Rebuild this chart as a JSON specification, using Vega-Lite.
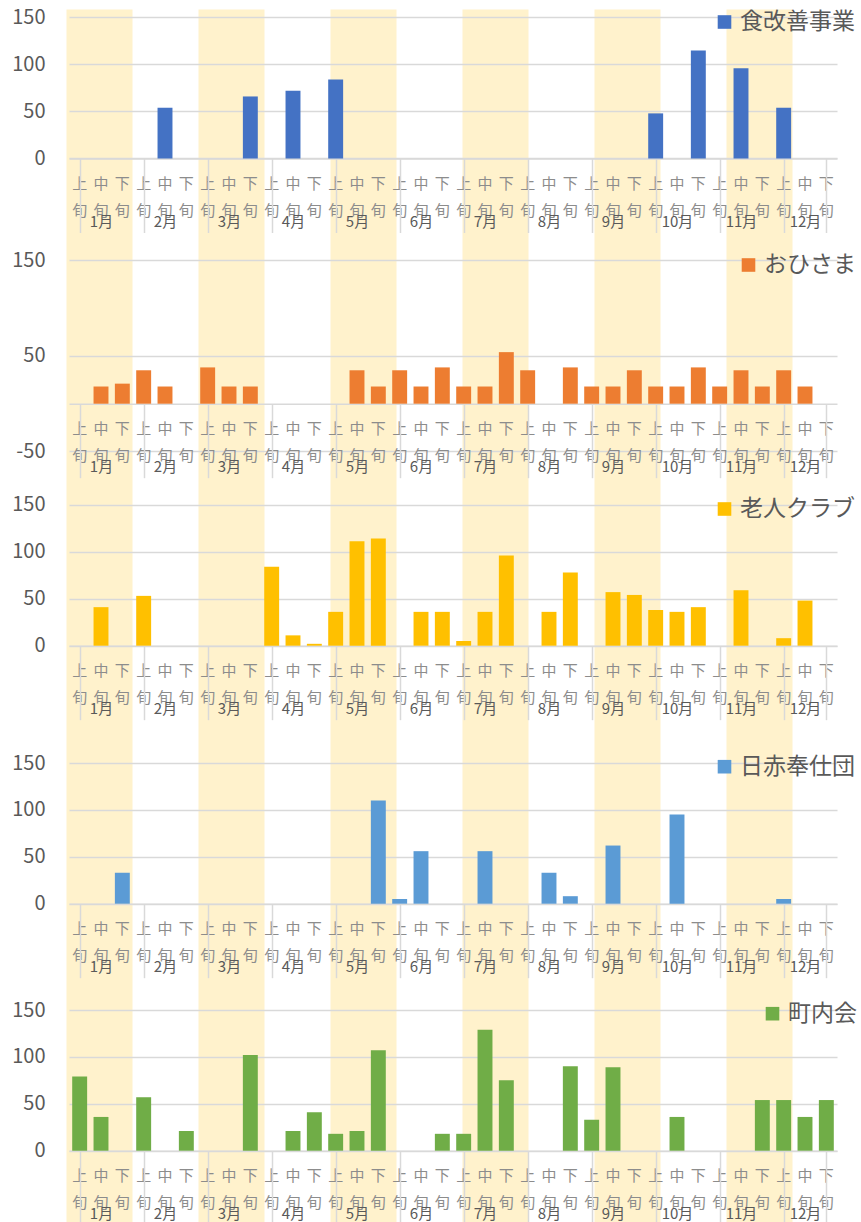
{
  "$schema": "https://vega.github.io/schema/vega-lite/v6.json",
  "autosize": {"type": "none"},
  "padding": {"left": 69, "top": 9, "right": 24, "bottom": 0},
  "width": 768,
  "height": 1213,
  "config": {"font": "Noto Sans CJK JP", "view": {"stroke": null}},
  "resolve": {"scale": {"x": "independent", "y": "independent", "color": "independent"}, "axis": {"x": "independent", "y": "independent"}, "legend": {"color": "independent"}},
  "datasets": {
    "shade": [{"col": 1}, {"col": 3}, {"col": 5}, {"col": 7}, {"col": 9}, {"col": 11}],
    "d": [
      {"s": "食改善事業", "c": "2月中旬", "v": 54},
      {"s": "食改善事業", "c": "3月下旬", "v": 66},
      {"s": "食改善事業", "c": "4月中旬", "v": 72},
      {"s": "食改善事業", "c": "5月上旬", "v": 84},
      {"s": "食改善事業", "c": "10月上旬", "v": 48},
      {"s": "食改善事業", "c": "10月下旬", "v": 115},
      {"s": "食改善事業", "c": "11月中旬", "v": 96},
      {"s": "食改善事業", "c": "12月上旬", "v": 54},
      {"s": "おひさま", "c": "1月中旬", "v": 18},
      {"s": "おひさま", "c": "1月下旬", "v": 21},
      {"s": "おひさま", "c": "2月上旬", "v": 35},
      {"s": "おひさま", "c": "2月中旬", "v": 18},
      {"s": "おひさま", "c": "3月上旬", "v": 38},
      {"s": "おひさま", "c": "3月中旬", "v": 18},
      {"s": "おひさま", "c": "3月下旬", "v": 18},
      {"s": "おひさま", "c": "5月中旬", "v": 35},
      {"s": "おひさま", "c": "5月下旬", "v": 18},
      {"s": "おひさま", "c": "6月上旬", "v": 35},
      {"s": "おひさま", "c": "6月中旬", "v": 18},
      {"s": "おひさま", "c": "6月下旬", "v": 38},
      {"s": "おひさま", "c": "7月上旬", "v": 18},
      {"s": "おひさま", "c": "7月中旬", "v": 18},
      {"s": "おひさま", "c": "7月下旬", "v": 54},
      {"s": "おひさま", "c": "8月上旬", "v": 35},
      {"s": "おひさま", "c": "8月下旬", "v": 38},
      {"s": "おひさま", "c": "9月上旬", "v": 18},
      {"s": "おひさま", "c": "9月中旬", "v": 18},
      {"s": "おひさま", "c": "9月下旬", "v": 35},
      {"s": "おひさま", "c": "10月上旬", "v": 18},
      {"s": "おひさま", "c": "10月中旬", "v": 18},
      {"s": "おひさま", "c": "10月下旬", "v": 38},
      {"s": "おひさま", "c": "11月上旬", "v": 18},
      {"s": "おひさま", "c": "11月中旬", "v": 35},
      {"s": "おひさま", "c": "11月下旬", "v": 18},
      {"s": "おひさま", "c": "12月上旬", "v": 35},
      {"s": "おひさま", "c": "12月中旬", "v": 18},
      {"s": "老人クラブ", "c": "1月中旬", "v": 41},
      {"s": "老人クラブ", "c": "2月上旬", "v": 53},
      {"s": "老人クラブ", "c": "4月上旬", "v": 84},
      {"s": "老人クラブ", "c": "4月中旬", "v": 11},
      {"s": "老人クラブ", "c": "4月下旬", "v": 2},
      {"s": "老人クラブ", "c": "5月上旬", "v": 36},
      {"s": "老人クラブ", "c": "5月中旬", "v": 111},
      {"s": "老人クラブ", "c": "5月下旬", "v": 114},
      {"s": "老人クラブ", "c": "6月中旬", "v": 36},
      {"s": "老人クラブ", "c": "6月下旬", "v": 36},
      {"s": "老人クラブ", "c": "7月上旬", "v": 5},
      {"s": "老人クラブ", "c": "7月中旬", "v": 36},
      {"s": "老人クラブ", "c": "7月下旬", "v": 96},
      {"s": "老人クラブ", "c": "8月中旬", "v": 36},
      {"s": "老人クラブ", "c": "8月下旬", "v": 78},
      {"s": "老人クラブ", "c": "9月中旬", "v": 57},
      {"s": "老人クラブ", "c": "9月下旬", "v": 54},
      {"s": "老人クラブ", "c": "10月上旬", "v": 38},
      {"s": "老人クラブ", "c": "10月中旬", "v": 36},
      {"s": "老人クラブ", "c": "10月下旬", "v": 41},
      {"s": "老人クラブ", "c": "11月中旬", "v": 59},
      {"s": "老人クラブ", "c": "12月上旬", "v": 8},
      {"s": "老人クラブ", "c": "12月中旬", "v": 48},
      {"s": "日赤奉仕団", "c": "1月下旬", "v": 33},
      {"s": "日赤奉仕団", "c": "5月下旬", "v": 110},
      {"s": "日赤奉仕団", "c": "6月上旬", "v": 5},
      {"s": "日赤奉仕団", "c": "6月中旬", "v": 56},
      {"s": "日赤奉仕団", "c": "7月中旬", "v": 56},
      {"s": "日赤奉仕団", "c": "8月中旬", "v": 33},
      {"s": "日赤奉仕団", "c": "8月下旬", "v": 8},
      {"s": "日赤奉仕団", "c": "9月中旬", "v": 62},
      {"s": "日赤奉仕団", "c": "10月中旬", "v": 95},
      {"s": "日赤奉仕団", "c": "12月上旬", "v": 5},
      {"s": "町内会", "c": "1月上旬", "v": 79},
      {"s": "町内会", "c": "1月中旬", "v": 36},
      {"s": "町内会", "c": "2月上旬", "v": 57},
      {"s": "町内会", "c": "2月下旬", "v": 21},
      {"s": "町内会", "c": "3月下旬", "v": 102},
      {"s": "町内会", "c": "4月中旬", "v": 21},
      {"s": "町内会", "c": "4月下旬", "v": 41},
      {"s": "町内会", "c": "5月上旬", "v": 18},
      {"s": "町内会", "c": "5月中旬", "v": 21},
      {"s": "町内会", "c": "5月下旬", "v": 107},
      {"s": "町内会", "c": "6月下旬", "v": 18},
      {"s": "町内会", "c": "7月上旬", "v": 18},
      {"s": "町内会", "c": "7月中旬", "v": 129},
      {"s": "町内会", "c": "7月下旬", "v": 75},
      {"s": "町内会", "c": "8月下旬", "v": 90},
      {"s": "町内会", "c": "9月上旬", "v": 33},
      {"s": "町内会", "c": "9月中旬", "v": 89},
      {"s": "町内会", "c": "10月中旬", "v": 36},
      {"s": "町内会", "c": "11月下旬", "v": 54},
      {"s": "町内会", "c": "12月上旬", "v": 54},
      {"s": "町内会", "c": "12月中旬", "v": 36},
      {"s": "町内会", "c": "12月下旬", "v": 54}
    ]
  },
  "layer": [
    {"data": {"name": "shade"}, "mark": {"type": "point", "opacity": 0},
     "encoding": {"x": {"field": "col", "type": "quantitative", "scale": {"domain": [0.54545, 12.18182], "nice": false, "zero": false},
       "axis": {"orient": "bottom", "title": null, "values": [1, 3, 5, 7, 9, 11], "grid": true, "gridColor": "#FFF2CC", "gridWidth": 66, "gridOpacity": 1, "labels": false, "ticks": false, "domain": false}}}},

    {"data": {"name": "d"}, "transform": [{"filter": "datum.s === '食改善事業'"}],
     "mark": {"type": "bar", "width": {"band": 0.7}},
     "encoding": {
       "x": {"field": "c", "type": "nominal", "scale": {"domain": ["1月上旬","1月中旬","1月下旬","2月上旬","2月中旬","2月下旬","3月上旬","3月中旬","3月下旬","4月上旬","4月中旬","4月下旬","5月上旬","5月中旬","5月下旬","6月上旬","6月中旬","6月下旬","7月上旬","7月中旬","7月下旬","8月上旬","8月中旬","8月下旬","9月上旬","9月中旬","9月下旬","10月上旬","10月中旬","10月下旬","11月上旬","11月中旬","11月下旬","12月上旬","12月中旬","12月下旬"], "paddingInner": 0, "paddingOuter": 0},
         "axis": {"orient": "bottom", "offset": -1063.5, "title": null, "grid": false, "ticks": false, "tickSize": 0, "domain": true, "domainColor": "#D9D9D9", "domainWidth": 1.5, "labelExpr": "[slice(datum.value,-2,-1), slice(datum.value,-1)]", "labelLineHeight": 27, "labelFontSize": 15, "labelColor": "#8C8C8C", "labelBaseline": "top", "labelPadding": 18, "labelAngle": 0, "labelOverlap": false}},
       "y": {"field": "v", "type": "quantitative", "scale": {"domain": [-1131.38, 159.04], "nice": false, "zero": false},
         "axis": {"orient": "left", "title": null, "values": [0, 50, 100, 150], "grid": true, "gridColor": "#D9D9D9", "gridWidth": 1.5, "ticks": false, "domain": false, "labelFontSize": 20, "labelColor": "#595959", "labelPadding": 24}},
       "color": {"field": "s", "type": "nominal", "scale": {"domain": ["食改善事業"], "range": ["#4472C4"]},
         "legend": {"orient": "none", "legendX": 644, "legendY": 1.5, "title": null, "symbolType": "square", "symbolSize": 185, "symbolStrokeWidth": 0, "labelFontSize": 23, "labelColor": "#595959", "labelOffset": 4, "padding": 0}}
     }},
    {"data": {"name": "d"}, "mark": {"type": "point", "opacity": 0},
     "encoding": {"x": {"field": "c", "type": "nominal", "scale": {"domain": ["1月上旬","1月中旬","1月下旬","2月上旬","2月中旬","2月下旬","3月上旬","3月中旬","3月下旬","4月上旬","4月中旬","4月下旬","5月上旬","5月中旬","5月下旬","6月上旬","6月中旬","6月下旬","7月上旬","7月中旬","7月下旬","8月上旬","8月中旬","8月下旬","9月上旬","9月中旬","9月下旬","10月上旬","10月中旬","10月下旬","11月上旬","11月中旬","11月下旬","12月上旬","12月中旬","12月下旬"], "paddingInner": 0, "paddingOuter": 0},
       "axis": {"orient": "bottom", "offset": -1063.5, "title": null, "grid": false, "values": ["1月上旬","2月上旬","3月上旬","4月上旬","5月上旬","6月上旬","7月上旬","8月上旬","9月上旬","10月上旬","11月上旬","12月上旬"], "bandPosition": 0, "tickSize": 74, "tickColor": "#D9D9D9", "tickWidth": 1.5, "domain": false, "labelExpr": "slice(datum.value,0,-2)", "labelOffset": 21.33, "labelFontSize": 15, "labelColor": "#595959", "labelBaseline": "middle", "labelPadding": -11, "labelAngle": 0, "labelOverlap": false}}}},
    {"data": {"name": "d"}, "mark": {"type": "point", "opacity": 0},
     "encoding": {"x": {"field": "c", "type": "nominal", "scale": {"domain": ["1月上旬","1月中旬","1月下旬","2月上旬","2月中旬","2月下旬","3月上旬","3月中旬","3月下旬","4月上旬","4月中旬","4月下旬","5月上旬","5月中旬","5月下旬","6月上旬","6月中旬","6月下旬","7月上旬","7月中旬","7月下旬","8月上旬","8月中旬","8月下旬","9月上旬","9月中旬","9月下旬","10月上旬","10月中旬","10月下旬","11月上旬","11月中旬","11月下旬","12月上旬","12月中旬","12月下旬"], "paddingInner": 0, "paddingOuter": 0},
       "axis": {"orient": "bottom", "offset": -1063.5, "title": null, "grid": false, "values": ["12月下旬"], "bandPosition": 1, "tickSize": 74, "tickColor": "#D9D9D9", "tickWidth": 1.5, "domain": false, "labels": false}}}},

    {"data": {"name": "d"}, "transform": [{"filter": "datum.s === 'おひさま'"}],
     "mark": {"type": "bar", "width": {"band": 0.7}},
     "encoding": {
       "x": {"field": "c", "type": "nominal", "scale": {"domain": ["1月上旬","1月中旬","1月下旬","2月上旬","2月中旬","2月下旬","3月上旬","3月中旬","3月下旬","4月上旬","4月中旬","4月下旬","5月上旬","5月中旬","5月下旬","6月上旬","6月中旬","6月下旬","7月上旬","7月中旬","7月下旬","8月上旬","8月中旬","8月下旬","9月上旬","9月中旬","9月下旬","10月上旬","10月中旬","10月下旬","11月上旬","11月中旬","11月下旬","12月上旬","12月中旬","12月下旬"], "paddingInner": 0, "paddingOuter": 0},
         "axis": {"orient": "bottom", "offset": -818.3, "title": null, "grid": false, "ticks": false, "tickSize": 0, "domain": true, "domainColor": "#D9D9D9", "domainWidth": 1.5, "labelExpr": "[slice(datum.value,-2,-1), slice(datum.value,-1)]", "labelLineHeight": 27, "labelFontSize": 15, "labelColor": "#8C8C8C", "labelBaseline": "top", "labelPadding": 18, "labelAngle": 0, "labelOverlap": false}},
       "y": {"field": "v", "type": "quantitative", "scale": {"domain": [-856.86, 413.30], "nice": false, "zero": false},
         "axis": {"orient": "left", "title": null, "values": [-50, 50, 150], "labelExpr": "replace(datum.label, '−', '-')", "grid": true, "gridColor": "#D9D9D9", "gridWidth": 1.5, "ticks": false, "domain": false, "labelFontSize": 20, "labelColor": "#595959", "labelPadding": 24}},
       "color": {"field": "s", "type": "nominal", "scale": {"domain": ["おひさま"], "range": ["#ED7D31"]},
         "legend": {"orient": "none", "legendX": 668, "legendY": 244.5, "title": null, "symbolType": "square", "symbolSize": 185, "symbolStrokeWidth": 0, "labelFontSize": 23, "labelColor": "#595959", "labelOffset": 4, "padding": 0}}
     }},
    {"data": {"name": "d"}, "mark": {"type": "point", "opacity": 0},
     "encoding": {"x": {"field": "c", "type": "nominal", "scale": {"domain": ["1月上旬","1月中旬","1月下旬","2月上旬","2月中旬","2月下旬","3月上旬","3月中旬","3月下旬","4月上旬","4月中旬","4月下旬","5月上旬","5月中旬","5月下旬","6月上旬","6月中旬","6月下旬","7月上旬","7月中旬","7月下旬","8月上旬","8月中旬","8月下旬","9月上旬","9月中旬","9月下旬","10月上旬","10月中旬","10月下旬","11月上旬","11月中旬","11月下旬","12月上旬","12月中旬","12月下旬"], "paddingInner": 0, "paddingOuter": 0},
       "axis": {"orient": "bottom", "offset": -818.3, "title": null, "grid": false, "values": ["1月上旬","2月上旬","3月上旬","4月上旬","5月上旬","6月上旬","7月上旬","8月上旬","9月上旬","10月上旬","11月上旬","12月上旬"], "bandPosition": 0, "tickSize": 74, "tickColor": "#D9D9D9", "tickWidth": 1.5, "domain": false, "labelExpr": "slice(datum.value,0,-2)", "labelOffset": 21.33, "labelFontSize": 15, "labelColor": "#595959", "labelBaseline": "middle", "labelPadding": -11, "labelAngle": 0, "labelOverlap": false}}}},
    {"data": {"name": "d"}, "mark": {"type": "point", "opacity": 0},
     "encoding": {"x": {"field": "c", "type": "nominal", "scale": {"domain": ["1月上旬","1月中旬","1月下旬","2月上旬","2月中旬","2月下旬","3月上旬","3月中旬","3月下旬","4月上旬","4月中旬","4月下旬","5月上旬","5月中旬","5月下旬","6月上旬","6月中旬","6月下旬","7月上旬","7月中旬","7月下旬","8月上旬","8月中旬","8月下旬","9月上旬","9月中旬","9月下旬","10月上旬","10月中旬","10月下旬","11月上旬","11月中旬","11月下旬","12月上旬","12月中旬","12月下旬"], "paddingInner": 0, "paddingOuter": 0},
       "axis": {"orient": "bottom", "offset": -818.3, "title": null, "grid": false, "values": ["12月下旬"], "bandPosition": 1, "tickSize": 74, "tickColor": "#D9D9D9", "tickWidth": 1.5, "domain": false, "labels": false}}}},

    {"data": {"name": "d"}, "transform": [{"filter": "datum.s === '老人クラブ'"}],
     "mark": {"type": "bar", "width": {"band": 0.7}},
     "encoding": {
       "x": {"field": "c", "type": "nominal", "scale": {"domain": ["1月上旬","1月中旬","1月下旬","2月上旬","2月中旬","2月下旬","3月上旬","3月中旬","3月下旬","4月上旬","4月中旬","4月下旬","5月上旬","5月中旬","5月下旬","6月上旬","6月中旬","6月下旬","7月上旬","7月中旬","7月下旬","8月上旬","8月中旬","8月下旬","9月上旬","9月中旬","9月下旬","10月上旬","10月中旬","10月下旬","11月上旬","11月中旬","11月下旬","12月上旬","12月中旬","12月下旬"], "paddingInner": 0, "paddingOuter": 0},
         "axis": {"orient": "bottom", "offset": -576.3, "title": null, "grid": false, "ticks": false, "tickSize": 0, "domain": true, "domainColor": "#D9D9D9", "domainWidth": 1.5, "labelExpr": "[slice(datum.value,-2,-1), slice(datum.value,-1)]", "labelLineHeight": 27, "labelFontSize": 15, "labelColor": "#8C8C8C", "labelBaseline": "top", "labelPadding": 18, "labelAngle": 0, "labelOverlap": false}},
       "y": {"field": "v", "type": "quantitative", "scale": {"domain": [-613.09, 677.34], "nice": false, "zero": false},
         "axis": {"orient": "left", "title": null, "values": [0, 50, 100, 150], "grid": true, "gridColor": "#D9D9D9", "gridWidth": 1.5, "ticks": false, "domain": false, "labelFontSize": 20, "labelColor": "#595959", "labelPadding": 24}},
       "color": {"field": "s", "type": "nominal", "scale": {"domain": ["老人クラブ"], "range": ["#FFC000"]},
         "legend": {"orient": "none", "legendX": 644, "legendY": 488.5, "title": null, "symbolType": "square", "symbolSize": 185, "symbolStrokeWidth": 0, "labelFontSize": 23, "labelColor": "#595959", "labelOffset": 4, "padding": 0}}
     }},
    {"data": {"name": "d"}, "mark": {"type": "point", "opacity": 0},
     "encoding": {"x": {"field": "c", "type": "nominal", "scale": {"domain": ["1月上旬","1月中旬","1月下旬","2月上旬","2月中旬","2月下旬","3月上旬","3月中旬","3月下旬","4月上旬","4月中旬","4月下旬","5月上旬","5月中旬","5月下旬","6月上旬","6月中旬","6月下旬","7月上旬","7月中旬","7月下旬","8月上旬","8月中旬","8月下旬","9月上旬","9月中旬","9月下旬","10月上旬","10月中旬","10月下旬","11月上旬","11月中旬","11月下旬","12月上旬","12月中旬","12月下旬"], "paddingInner": 0, "paddingOuter": 0},
       "axis": {"orient": "bottom", "offset": -576.3, "title": null, "grid": false, "values": ["1月上旬","2月上旬","3月上旬","4月上旬","5月上旬","6月上旬","7月上旬","8月上旬","9月上旬","10月上旬","11月上旬","12月上旬"], "bandPosition": 0, "tickSize": 74, "tickColor": "#D9D9D9", "tickWidth": 1.5, "domain": false, "labelExpr": "slice(datum.value,0,-2)", "labelOffset": 21.33, "labelFontSize": 15, "labelColor": "#595959", "labelBaseline": "middle", "labelPadding": -11, "labelAngle": 0, "labelOverlap": false}}}},
    {"data": {"name": "d"}, "mark": {"type": "point", "opacity": 0},
     "encoding": {"x": {"field": "c", "type": "nominal", "scale": {"domain": ["1月上旬","1月中旬","1月下旬","2月上旬","2月中旬","2月下旬","3月上旬","3月中旬","3月下旬","4月上旬","4月中旬","4月下旬","5月上旬","5月中旬","5月下旬","6月上旬","6月中旬","6月下旬","7月上旬","7月中旬","7月下旬","8月上旬","8月中旬","8月下旬","9月上旬","9月中旬","9月下旬","10月上旬","10月中旬","10月下旬","11月上旬","11月中旬","11月下旬","12月上旬","12月中旬","12月下旬"], "paddingInner": 0, "paddingOuter": 0},
       "axis": {"orient": "bottom", "offset": -576.3, "title": null, "grid": false, "values": ["12月下旬"], "bandPosition": 1, "tickSize": 74, "tickColor": "#D9D9D9", "tickWidth": 1.5, "domain": false, "labels": false}}}},

    {"data": {"name": "d"}, "transform": [{"filter": "datum.s === '日赤奉仕団'"}],
     "mark": {"type": "bar", "width": {"band": 0.7}},
     "encoding": {
       "x": {"field": "c", "type": "nominal", "scale": {"domain": ["1月上旬","1月中旬","1月下旬","2月上旬","2月中旬","2月下旬","3月上旬","3月中旬","3月下旬","4月上旬","4月中旬","4月下旬","5月上旬","5月中旬","5月下旬","6月上旬","6月中旬","6月下旬","7月上旬","7月中旬","7月下旬","8月上旬","8月中旬","8月下旬","9月上旬","9月中旬","9月下旬","10月上旬","10月中旬","10月下旬","11月上旬","11月中旬","11月下旬","12月上旬","12月中旬","12月下旬"], "paddingInner": 0, "paddingOuter": 0},
         "axis": {"orient": "bottom", "offset": -318.3, "title": null, "grid": false, "ticks": false, "tickSize": 0, "domain": true, "domainColor": "#D9D9D9", "domainWidth": 1.5, "labelExpr": "[slice(datum.value,-2,-1), slice(datum.value,-1)]", "labelLineHeight": 27, "labelFontSize": 15, "labelColor": "#8C8C8C", "labelBaseline": "top", "labelPadding": 18, "labelAngle": 0, "labelOverlap": false}},
       "y": {"field": "v", "type": "quantitative", "scale": {"domain": [-339.34, 953.84], "nice": false, "zero": false},
         "axis": {"orient": "left", "title": null, "values": [0, 50, 100, 150], "grid": true, "gridColor": "#D9D9D9", "gridWidth": 1.5, "ticks": false, "domain": false, "labelFontSize": 20, "labelColor": "#595959", "labelPadding": 24}},
       "color": {"field": "s", "type": "nominal", "scale": {"domain": ["日赤奉仕団"], "range": ["#5B9BD5"]},
         "legend": {"orient": "none", "legendX": 644, "legendY": 746.2, "title": null, "symbolType": "square", "symbolSize": 185, "symbolStrokeWidth": 0, "labelFontSize": 23, "labelColor": "#595959", "labelOffset": 4, "padding": 0}}
     }},
    {"data": {"name": "d"}, "mark": {"type": "point", "opacity": 0},
     "encoding": {"x": {"field": "c", "type": "nominal", "scale": {"domain": ["1月上旬","1月中旬","1月下旬","2月上旬","2月中旬","2月下旬","3月上旬","3月中旬","3月下旬","4月上旬","4月中旬","4月下旬","5月上旬","5月中旬","5月下旬","6月上旬","6月中旬","6月下旬","7月上旬","7月中旬","7月下旬","8月上旬","8月中旬","8月下旬","9月上旬","9月中旬","9月下旬","10月上旬","10月中旬","10月下旬","11月上旬","11月中旬","11月下旬","12月上旬","12月中旬","12月下旬"], "paddingInner": 0, "paddingOuter": 0},
       "axis": {"orient": "bottom", "offset": -318.3, "title": null, "grid": false, "values": ["1月上旬","2月上旬","3月上旬","4月上旬","5月上旬","6月上旬","7月上旬","8月上旬","9月上旬","10月上旬","11月上旬","12月上旬"], "bandPosition": 0, "tickSize": 74, "tickColor": "#D9D9D9", "tickWidth": 1.5, "domain": false, "labelExpr": "slice(datum.value,0,-2)", "labelOffset": 21.33, "labelFontSize": 15, "labelColor": "#595959", "labelBaseline": "middle", "labelPadding": -11, "labelAngle": 0, "labelOverlap": false}}}},
    {"data": {"name": "d"}, "mark": {"type": "point", "opacity": 0},
     "encoding": {"x": {"field": "c", "type": "nominal", "scale": {"domain": ["1月上旬","1月中旬","1月下旬","2月上旬","2月中旬","2月下旬","3月上旬","3月中旬","3月下旬","4月上旬","4月中旬","4月下旬","5月上旬","5月中旬","5月下旬","6月上旬","6月中旬","6月下旬","7月上旬","7月中旬","7月下旬","8月上旬","8月中旬","8月下旬","9月上旬","9月中旬","9月下旬","10月上旬","10月中旬","10月下旬","11月上旬","11月中旬","11月下旬","12月上旬","12月中旬","12月下旬"], "paddingInner": 0, "paddingOuter": 0},
       "axis": {"orient": "bottom", "offset": -318.3, "title": null, "grid": false, "values": ["12月下旬"], "bandPosition": 1, "tickSize": 74, "tickColor": "#D9D9D9", "tickWidth": 1.5, "domain": false, "labels": false}}}},

    {"data": {"name": "d"}, "transform": [{"filter": "datum.s === '町内会'"}],
     "mark": {"type": "bar", "width": {"band": 0.7}},
     "encoding": {
       "x": {"field": "c", "type": "nominal", "scale": {"domain": ["1月上旬","1月中旬","1月下旬","2月上旬","2月中旬","2月下旬","3月上旬","3月中旬","3月下旬","4月上旬","4月中旬","4月下旬","5月上旬","5月中旬","5月下旬","6月上旬","6月中旬","6月下旬","7月上旬","7月中旬","7月下旬","8月上旬","8月中旬","8月下旬","9月上旬","9月中旬","9月下旬","10月上旬","10月中旬","10月下旬","11月上旬","11月中旬","11月下旬","12月上旬","12月中旬","12月下旬"], "paddingInner": 0, "paddingOuter": 0},
         "axis": {"orient": "bottom", "offset": -71.3, "title": null, "grid": false, "ticks": false, "tickSize": 0, "domain": true, "domainColor": "#D9D9D9", "domainWidth": 1.5, "labelExpr": "[slice(datum.value,-2,-1), slice(datum.value,-1)]", "labelLineHeight": 27, "labelFontSize": 15, "labelColor": "#8C8C8C", "labelBaseline": "top", "labelPadding": 18, "labelAngle": 0, "labelOverlap": false}},
       "y": {"field": "v", "type": "quantitative", "scale": {"domain": [-76.01, 1217.16], "nice": false, "zero": false},
         "axis": {"orient": "left", "title": null, "values": [0, 50, 100, 150], "grid": true, "gridColor": "#D9D9D9", "gridWidth": 1.5, "ticks": false, "domain": false, "labelFontSize": 20, "labelColor": "#595959", "labelPadding": 24}},
       "color": {"field": "s", "type": "nominal", "scale": {"domain": ["町内会"], "range": ["#70AD47"]},
         "legend": {"orient": "none", "legendX": 692, "legendY": 993.2, "title": null, "symbolType": "square", "symbolSize": 185, "symbolStrokeWidth": 0, "labelFontSize": 23, "labelColor": "#595959", "labelOffset": 4, "padding": 0}}
     }},
    {"data": {"name": "d"}, "mark": {"type": "point", "opacity": 0},
     "encoding": {"x": {"field": "c", "type": "nominal", "scale": {"domain": ["1月上旬","1月中旬","1月下旬","2月上旬","2月中旬","2月下旬","3月上旬","3月中旬","3月下旬","4月上旬","4月中旬","4月下旬","5月上旬","5月中旬","5月下旬","6月上旬","6月中旬","6月下旬","7月上旬","7月中旬","7月下旬","8月上旬","8月中旬","8月下旬","9月上旬","9月中旬","9月下旬","10月上旬","10月中旬","10月下旬","11月上旬","11月中旬","11月下旬","12月上旬","12月中旬","12月下旬"], "paddingInner": 0, "paddingOuter": 0},
       "axis": {"orient": "bottom", "offset": -71.3, "title": null, "grid": false, "values": ["1月上旬","2月上旬","3月上旬","4月上旬","5月上旬","6月上旬","7月上旬","8月上旬","9月上旬","10月上旬","11月上旬","12月上旬"], "bandPosition": 0, "tickSize": 74, "tickColor": "#D9D9D9", "tickWidth": 1.5, "domain": false, "labelExpr": "slice(datum.value,0,-2)", "labelOffset": 21.33, "labelFontSize": 15, "labelColor": "#595959", "labelBaseline": "middle", "labelPadding": -11, "labelAngle": 0, "labelOverlap": false}}}},
    {"data": {"name": "d"}, "mark": {"type": "point", "opacity": 0},
     "encoding": {"x": {"field": "c", "type": "nominal", "scale": {"domain": ["1月上旬","1月中旬","1月下旬","2月上旬","2月中旬","2月下旬","3月上旬","3月中旬","3月下旬","4月上旬","4月中旬","4月下旬","5月上旬","5月中旬","5月下旬","6月上旬","6月中旬","6月下旬","7月上旬","7月中旬","7月下旬","8月上旬","8月中旬","8月下旬","9月上旬","9月中旬","9月下旬","10月上旬","10月中旬","10月下旬","11月上旬","11月中旬","11月下旬","12月上旬","12月中旬","12月下旬"], "paddingInner": 0, "paddingOuter": 0},
       "axis": {"orient": "bottom", "offset": -71.3, "title": null, "grid": false, "values": ["12月下旬"], "bandPosition": 1, "tickSize": 74, "tickColor": "#D9D9D9", "tickWidth": 1.5, "domain": false, "labels": false}}}}
  ]
}
